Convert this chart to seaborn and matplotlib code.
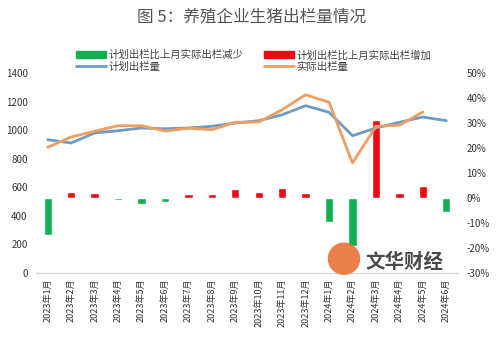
import matplotlib
matplotlib.use("Agg")
import matplotlib.pyplot as plt
import seaborn as sns
import pandas as pd
import numpy as np
from matplotlib.patches import Patch
from matplotlib.lines import Line2D

months = ["2023年1月", "2023年2月", "2023年3月", "2023年4月", "2023年5月", "2023年6月",
          "2023年7月", "2023年8月", "2023年9月", "2023年10月", "2023年11月", "2023年12月",
          "2024年1月", "2024年2月", "2024年3月", "2024年4月", "2024年5月", "2024年6月"]
change_pct = [-14.8, 2.4, 1.9, -0.6, -2.4, -1.5, 1.5, 1.5, 3.5, 2.3, 3.9, 2.0,
              -9.7, -19.3, 31.3, 2.0, 4.9, -5.6]
planned = [933, 910, 980, 996, 1015, 1010, 1015, 1027, 1050, 1066, 1108, 1171,
           1125, 961, 1015, 1055, 1092, 1066]
actual = [880, 952, 992, 1031, 1031, 994, 1013, 1003, 1055, 1057, 1143, 1248,
          1195, 770, 1027, 1034, 1127, np.nan]

GREEN = "#10B050"
RED = "#F00A14"
BLUE = "#6C9CC6"
ORANGE = "#EE9E62"

sns.set_theme(style="white")
plt.rcParams['font.family'] = ['Noto Sans CJK SC', 'DejaVu Sans']
plt.rcParams['axes.unicode_minus'] = False

fig = plt.figure(figsize=(5.03, 3.38), dpi=100)
ax1 = fig.add_axes([36/503, 1-273/338, (458-36)/503, 200/338])

df = pd.DataFrame({"month": months, "pct": change_pct,
                   "sign": ["dec" if v < 0 else "inc" for v in change_pct]})
sns.barplot(data=df, x="month", y="pct", hue="sign", palette={"dec": GREEN, "inc": RED},
            dodge=False, width=0.36, ax=ax1, legend=False, saturation=1)
ax1.set_ylim(-30, 50)
ax1.set_xlim(-0.5, len(months)-0.5)
ax1.set_xlabel("")
ax1.set_ylabel("")

ax2 = ax1.twinx()
x = np.arange(len(months))
ldf = pd.DataFrame({"x": x, "planned": planned, "actual": actual})
sns.lineplot(data=ldf, x="x", y="planned", color=BLUE, linewidth=2, ax=ax2)
sns.lineplot(data=ldf.dropna(), x="x", y="actual", color=ORANGE, linewidth=2, ax=ax2)
ax2.set_ylim(0, 1400)
ax2.set_xlim(-0.5, len(months)-0.5)
ax2.set_ylabel("")
ax2.set_xlabel("")

# percent axis on the right (bars), volume axis on the left (lines)
ax1.yaxis.tick_right()
ax1.set_yticks(np.arange(-30, 51, 10))
ax1.set_yticklabels([f"{v}%" for v in range(-30, 51, 10)], fontsize=7, color="#333333")
ax1.tick_params(axis='y', length=0, pad=6, left=False, labelleft=False,
                right=False, labelright=True)

ax2.yaxis.tick_left()
ax2.set_yticks(np.arange(0, 1401, 200))
ax2.set_yticklabels([str(v) for v in range(0, 1401, 200)], fontsize=7, color="#333333")
ax2.tick_params(axis='y', length=0, pad=6, left=False, labelleft=True,
                right=False, labelright=False)

ax1.set_xticks(x)
ax1.set_xticklabels(months, rotation=90, fontsize=6.5, color="#333333")
ax1.tick_params(axis='x', length=0, pad=4)

for a in (ax1, ax2):
    for s in a.spines.values():
        s.set_visible(False)
ax2.axhline(0, color="#D9D9D9", linewidth=1, clip_on=False)

handles = [Patch(color=GREEN, label="计划出栏比上月实际出栏减少"),
           Line2D([], [], color=BLUE, linewidth=2, label="计划出栏量"),
           Patch(color=RED, label="计划出栏比上月实际出栏增加"),
           Line2D([], [], color=ORANGE, linewidth=2, label="实际出栏量")]
fig.legend(handles=handles, loc="center", bbox_to_anchor=(0.505, 1-61/338), ncol=2,
           frameon=False, fontsize=7.5, handlelength=2.8, handleheight=0.7,
           columnspacing=2.0, labelspacing=0.15, handletextpad=0.3,
           labelcolor="#404040")

fig.text(0.5, 1-17/338, "图 5：养殖企业生猪出栏量情况", ha="center", va="center",
         fontsize=12, color="#555555")

# watermark
fig.text(343/503, 1-262/338, "●", ha="center", va="center", fontsize=26,
         color="#E8703A", alpha=0.9)
fig.text(404/503, 1-262/338, "文华财经", ha="center", va="center", fontsize=14,
         fontweight="bold", color="#2A2A2A", alpha=0.85)

fig.savefig("out.png", dpi=100)
